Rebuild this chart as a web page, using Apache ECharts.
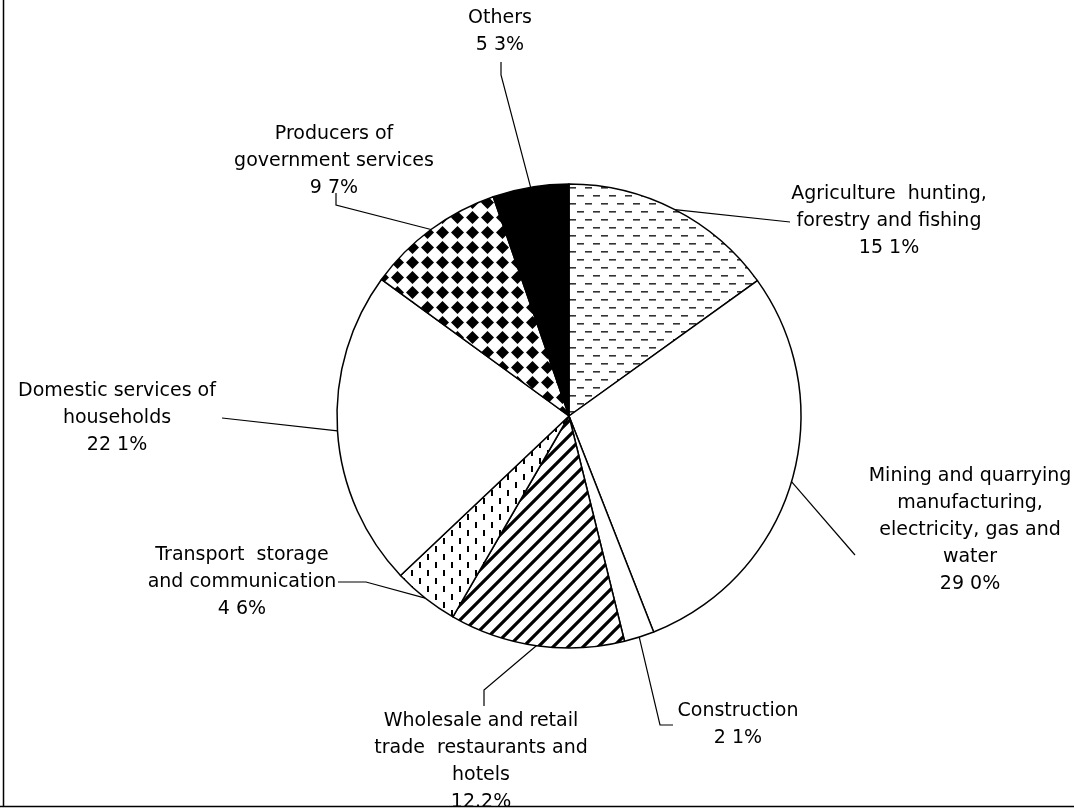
<!DOCTYPE html>
<html><head><meta charset="utf-8">
<script src="https://cdn.jsdelivr.net/npm/echarts@6/dist/echarts.min.js"></script>
<style>html,body{margin:0;padding:0;background:#fff}#c{width:1074px;height:812px}</style>
</head><body><div id="c"></div>
<script>
// ---- data ----
const categories = [
  'Agriculture  hunting,\nforestry and fishing',
  'Mining and quarrying\nmanufacturing,\nelectricity, gas and\nwater',
  'Construction',
  'Wholesale and retail\ntrade  restaurants and\nhotels',
  'Transport  storage\nand communication',
  'Domestic services of\nhouseholds',
  'Producers of\ngovernment services',
  'Others'
];
const values = [15.1, 29.0, 2.1, 12.2, 4.6, 22.1, 9.7, 5.3];
const valueLabels = ['15 1%', '29 0%', '2 1%', '12.2%', '4 6%', '22 1%', '9 7%', '5 3%'];

// ---- label placement (style) ----
const labelPos = [
  {x: 889, y: 221, line: [[790, 222]]},
  {x: 970, y: 530, line: [[855, 555]]},
  {x: 738, y: 725, line: [[660, 725], [673, 725]]},
  {x: 481, y: 762, line: [[484, 690], [484, 706]]},
  {x: 242, y: 582, line: [[366, 582], [338, 582]]},
  {x: 117, y: 418, line: [[222, 418]]},
  {x: 334, y: 161, line: [[336, 205], [336, 193]]},
  {x: 500, y: 32, line: [[501, 75], [501, 62]]}
];

// ---- patterns ----
function mk(w, h, draw) {
  const c = document.createElement('canvas');
  c.width = w; c.height = h;
  const g = c.getContext('2d');
  g.fillStyle = '#fff'; g.fillRect(0, 0, w, h);
  draw(g);
  return {image: c, repeat: 'repeat'};
}
const dashPat = mk(16, 16, g => { g.fillStyle = '#333'; g.fillRect(1, 3, 7, 1.6); g.fillRect(9, 11, 7, 1.6); });
const stripePat = mk(15, 15, g => {
  g.strokeStyle = '#000'; g.lineWidth = 3.2; g.beginPath();
  g.moveTo(-2, 17); g.lineTo(17, -2);
  g.moveTo(-2, 2); g.lineTo(2, -2);
  g.moveTo(13, 17); g.lineTo(17, 13);
  g.stroke();
});
const dotPat = mk(16, 16, g => { g.fillStyle = '#000'; g.fillRect(3, 2, 2, 6); g.fillRect(11, 10, 2, 6); });
const diaPat = mk(15, 15, g => {
  g.fillStyle = '#000'; g.beginPath();
  g.moveTo(7.5, 1); g.lineTo(14, 7.5); g.lineTo(7.5, 14); g.lineTo(1, 7.5);
  g.closePath(); g.fill();
});
const fills = [dashPat, '#fff', '#fff', stripePat, dotPat, '#fff', diaPat, '#000'];

const chart = echarts.init(document.getElementById('c'), null, {renderer: 'canvas'});
chart.setOption({
  animation: false,
  backgroundColor: '#fff',
  graphic: [
    {type: 'line', shape: {x1: 3.5, y1: 0, x2: 3.5, y2: 806}, style: {stroke: '#000', lineWidth: 1.5}, z: 100},
    {type: 'rect', shape: {x: 0, y: 807, width: 1074, height: 6}, style: {fill: '#fff'}, z: 99},
    {type: 'line', shape: {x1: 0, y1: 806.5, x2: 1074, y2: 806.5}, style: {stroke: '#000', lineWidth: 1.5}, z: 100}
  ],
  series: [{
    type: 'pie',
    center: [569, 416],
    radius: 232,
    startAngle: 90,
    clockwise: true,
    avoidLabelOverlap: false,
    silent: true,
    itemStyle: {borderColor: '#000', borderWidth: 1.5},
    label: {
      show: true, position: 'outside', color: '#000',
      fontFamily: 'DejaVu Sans', fontSize: 19, lineHeight: 27, align: 'center',
      formatter: p => categories[p.dataIndex] + '\n' + valueLabels[p.dataIndex]
    },
    labelLine: {show: true, length: 10, length2: 10, lineStyle: {color: '#000', width: 1.2}},
    labelLayout: function (params) {
      const L = labelPos[params.dataIndex];
      const start = params.labelLinePoints ? params.labelLinePoints[0] : null;
      const res = {x: L.x, y: L.y, align: 'center', verticalAlign: 'middle'};
      if (start) res.labelLinePoints = [start].concat(L.line);
      return res;
    },
    data: values.map((v, i) => ({value: v, name: categories[i], itemStyle: {color: fills[i]}}))
  }]
});
</script></body></html>
